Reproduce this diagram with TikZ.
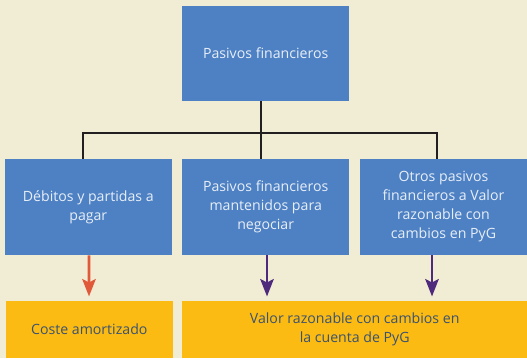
\documentclass[tikz,border=0pt]{standalone}
\usepackage{fontspec}
\setmainfont{Open Sans}
\usetikzlibrary{arrows.meta,calc}
\definecolor{bg}{HTML}{F1ECD4}
\definecolor{boxblue}{HTML}{4D81C3}
\definecolor{boxorange}{HTML}{FCBB12}
\definecolor{bluetext}{HTML}{E8EEF8}
\definecolor{orangetext}{HTML}{3A5272}
\definecolor{arrowred}{HTML}{E05A3A}
\definecolor{arrowpurple}{HTML}{4F2A7C}
\definecolor{connblack}{HTML}{231F20}
\tikzset{
  bluebox/.style={fill=boxblue, text=bluetext, inner sep=0pt, align=center,
    font=\fontsize{10.6}{14.25}\selectfont},
  orangebox/.style={fill=boxorange, text=orangetext, inner sep=0pt, align=center,
    font=\fontsize{10.6}{14.25}\selectfont},
  conn/.style={draw=connblack, line width=1.6pt},
  redarrow/.style={draw=arrowred, line width=2.2pt, -{Stealth[length=13pt,width=10pt,inset=2.5pt]}},
  purplearrow/.style={draw=arrowpurple, line width=2.2pt, -{Stealth[length=13pt,width=10pt,inset=2.5pt]}}
}
\begin{document}
\begin{tikzpicture}[x=0.75pt,y=-0.75pt]
\fill[bg] (0,0) rectangle (527,358);
\useasboundingbox (0,0) rectangle (527,358);
\node[bluebox, minimum width=125.25pt, minimum height=71.25pt] (top) at (265.7,53.5) {Pasivos financieros};
\node[bluebox, minimum width=125pt, minimum height=72pt] (left) at (88.3,207) {Débitos y partidas a\\pagar};
\node[bluebox, minimum width=125pt, minimum height=72pt] (mid) at (265.7,207) {Pasivos financieros\\mantenidos para\\negociar};
\node[bluebox, minimum width=125.25pt, minimum height=72pt] (right) at (443.5,207) {Otros pasivos\\financieros a Valor\\razonable con\\cambios en PyG};
\node[orangebox, minimum width=125pt, minimum height=43pt] (cost) at (89.3,329.4) {Coste amortizado};
\node[orangebox, minimum width=258.5pt, minimum height=43pt] (valor) at (354.7,329.4) {Valor razonable con cambios en\\la cuenta de PyG};
\coordinate (bus) at ($(top.south)+(-4.7,32)$);
\draw[conn] ($(top.south)+(-4.7,0)$) -- ($(mid.north)+(-4.7,0)$);
\draw[conn] ($(left.north)+(-5,0)$) |- (bus) -| ($(right.north)+(-6.8,0)$);
\draw[redarrow] ($(left.south)+(0.7,0)$) -- ($(cost.north)+(0.7-1,-4)$);
\draw[purplearrow] ($(mid.south)+(1.3,0)$) -- ($(mid.south |- valor.north)+(1.3,-4)$);
\draw[purplearrow] ($(right.south)+(-11.5,0)$) -- ($(right.south |- valor.north)+(-11.5,-4)$);
\end{tikzpicture}
\end{document}
